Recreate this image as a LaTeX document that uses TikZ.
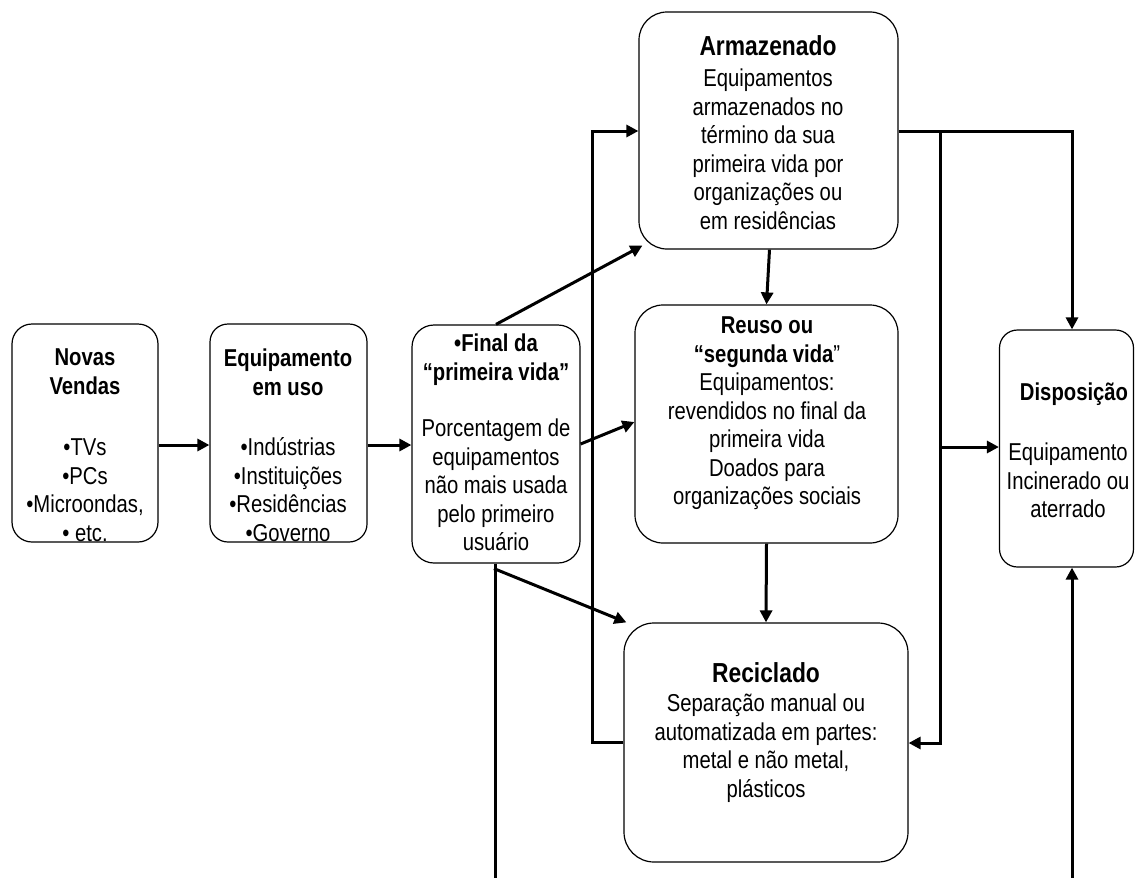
\documentclass[tikz,border=0pt]{standalone}
\usepackage{fontspec}
\setmainfont{Liberation Sans}[FakeStretch=0.83]
\usetikzlibrary{arrows.meta,calc}
\begin{document}
\begin{tikzpicture}[x=1pt,y=-1pt,
  box/.style={draw=black, line width=1.2pt, rectangle, inner sep=0pt},
  body/.style={anchor=north, align=center, inner sep=0pt, font=\fontsize{24.4}{28.5}\selectfont},
  head/.style={anchor=north, align=center, inner sep=0pt, font=\fontsize{24.4}{28.5}\selectfont\bfseries},
  bighead/.style={anchor=north, align=center, inner sep=0pt, font=\fontsize{27.5}{32}\selectfont\bfseries},
  conn/.style={line width=3pt, -{Triangle[length=12pt,width=12pt]}},
  wire/.style={line width=3pt},
]
\useasboundingbox (0,0) rectangle (1135,878);

% boxes
\node[box, rounded corners=20pt, minimum width=146pt, minimum height=218pt] (nv) at (85,433) {};
\node[box, rounded corners=18pt, minimum width=157pt, minimum height=218pt] (eu) at (288.5,433) {};
\node[box, rounded corners=22pt, minimum width=168pt, minimum height=238pt] (fv) at (496,444) {};
\node[box, rounded corners=28pt, minimum width=259pt, minimum height=237pt] (arm) at (768.5,130.5) {};
\node[box, rounded corners=28pt, minimum width=263pt, minimum height=238pt] (reu) at (766.5,424) {};
\node[box, rounded corners=30pt, minimum width=284pt, minimum height=239pt] (rec) at (766,742.5) {};
\node[box, rounded corners=18pt, minimum width=134pt, minimum height=237pt] (dis) at (1066.5,448.5) {};

% texts
\node[head] (nvT) at (85,345.8) {\strut Novas\\Vendas};
\node[body] (nvB) at (85,435.8) {\strut •TVs\\•PCs\\•Microondas,\\• etc.};
\node[head] (euT) at (288,346.8) {\strut Equipamento\\em uso};
\node[body] (euB) at (288,435.8) {\strut •Indústrias\\•Instituições\\•Residências\\•Governo};
\node[head] (fvT) at (496,331.8) {\strut •Final da\\“primeira vida”};
\node[body] (fvB) at (496,416.8) {\strut Porcentagem de\\equipamentos\\não mais usada\\pelo primeiro\\usuário};
\node[bighead] (armT) at (768,32.5) {\strut Armazenado};
\node[body] (armB) at (768,66.8) {\strut Equipamentos\\armazenados no\\término da sua\\primeira vida por\\organizações ou\\em residências};
\node[head] (reuT) at (767,313.8) {\strut Reuso ou\\“segunda vida\mdseries ”};
\node[body] (reuB) at (767,370.8) {\strut Equipamentos:\\revendidos no final da\\primeira vida\\Doados para\\organizações sociais};
\node[bighead] (recT) at (766,659.5) {\strut Reciclado};
\node[body] (recB) at (766,691.8) {\strut Separação manual ou\\automatizada em partes:\\metal e não metal,\\plásticos};
\node[head] (disT) at (1074,380.8) {\strut Disposição};
\node[body] (disB) at (1068,440.8) {\strut Equipamento\\Incinerado ou\\aterrado};

% helper points for the connectors
\coordinate (row) at (0,445);
\coordinate (top) at (0,131);
\coordinate (recrow) at (0,742);
\coordinate (jt) at (940,131);
\coordinate (jd) at (940,447);
\coordinate (bl) at (495,878);
\coordinate (br) at (1072,878);

% connectors
\draw[conn] (nv.east |- row) -- (eu.west |- row);
\draw[conn] (eu.east |- row) -- (fv.west |- row);
\draw[conn] (fv.north) -- ($(arm.south west)+(4,-4)$);
\draw[conn] (fv.east) -- ($(reu.west)+(0,-2)$);
\draw[conn] ($(fv.south)+(-2,5)$) -- ($(rec.north west)+(3,0)$);
\draw[wire] (bl |- fv.south) -- (bl);
\draw[conn] (br) -- (br |- dis.south);
\draw[conn] (rec.west |- recrow) -- ++(-31,0) |- (arm.west |- top);
\draw[conn] (arm.east |- top) -| (br |- dis.north);
\draw[conn] (jt) |- ($(rec.east |- recrow)+(0,1)$);
\draw[conn] (jd) -- (dis.west |- jd);
\draw[conn] ($(arm.south)+(1,0)$) -- (reu.north);
\draw[conn] (reu.south) -- (rec.north);
\end{tikzpicture}
\end{document}
